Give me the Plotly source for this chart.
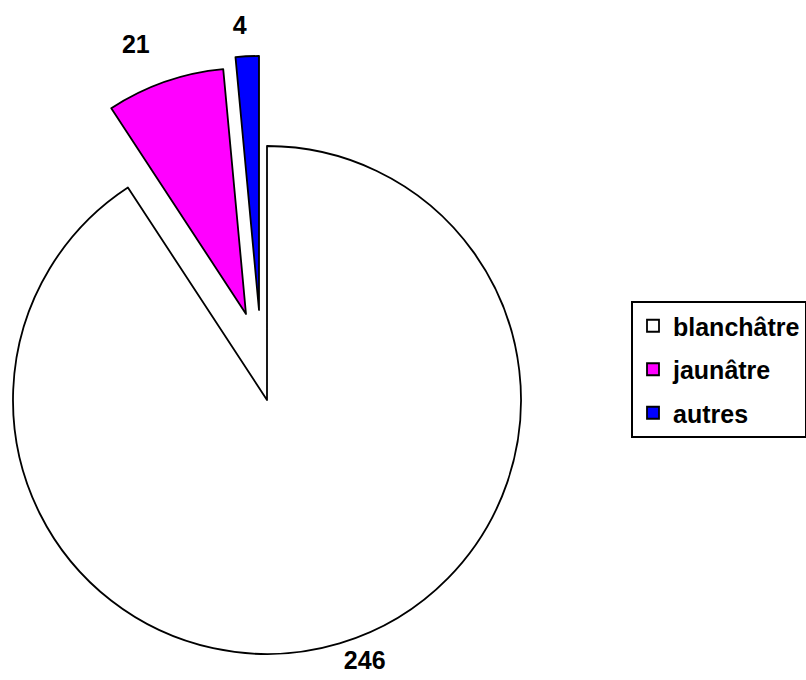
import plotly.graph_objects as go

# ---- data ----
labels = ["blanchâtre", "jaunâtre", "autres"]
values = [246, 21, 4]
value_text = ["246", "21", "4"]

# ---- styles ----
colors = ["#FFFFFF", "#FF00FF", "#0000FF"]
TRANSPARENT = "rgba(0,0,0,0)"
LINE_W = 1.8
LABEL_FONT = dict(family="Liberation Sans, Arial, sans-serif", size=25, color="black", weight="bold")
LEGEND_FONT = dict(family="Liberation Sans, Arial, sans-serif", size=25, color="black", weight="bold")

W, H = 806, 680

def dom(cx, cy, r):
    """domain (paper fractions) of a pie of radius r centred at pixel (cx, cy)."""
    return dict(x=[(cx - r) / W, (cx + r) / W],
                y=[(H - (cy + r)) / H, (H - (cy - r)) / H])

# slice geometry (pixel centre + radius): main pie and the two exploded slices
slice_geom = [(267, 400, 254), (246, 314, 246), (259, 310, 254)]
# where each value label's (transparent) carrier pie sits
label_geom = [(262, 396, 262), (234, 277, 234), (266, 305, 266)]

fig = go.Figure()

# legend-only pies (one per category), hidden beneath the legend box
for i, lab in enumerate(labels):
    fig.add_trace(go.Pie(
        labels=[lab], values=[values[i]], sort=False,
        marker=dict(colors=[colors[i]], line=dict(color="black", width=LINE_W)),
        textinfo="none", hoverinfo="skip",
        domain=dict(x=[0.88, 0.8805], y=[0.40, 0.4005]),
        legendgroup=lab, showlegend=True,
    ))

n = len(labels)
for i, lab in enumerate(labels):
    # the slice itself (other slices transparent, so angles are kept)
    cx, cy, r = slice_geom[i]
    fig.add_trace(go.Pie(
        labels=labels, values=values, sort=False,
        direction="clockwise", rotation=0,
        marker=dict(colors=[colors[j] if j == i else TRANSPARENT for j in range(n)],
                    line=dict(color="black", width=[LINE_W if j == i else 0 for j in range(n)])),
        textinfo="none", hoverinfo="label+value",
        domain=dom(cx, cy, r), showlegend=False,
    ))
    # its value label, placed outside by a transparent carrier pie
    lx, ly, lr = label_geom[i]
    fig.add_trace(go.Pie(
        labels=labels, values=values, sort=False,
        direction="clockwise", rotation=0,
        marker=dict(colors=[TRANSPARENT] * n, line=dict(width=0)),
        text=[value_text[j] if j == i else "" for j in range(n)],
        textinfo="text",
        textposition=["outside" if j == i else "none" for j in range(n)],
        textfont=LABEL_FONT, outsidetextfont=LABEL_FONT,
        hoverinfo="skip",
        domain=dom(lx, ly, lr), showlegend=False,
    ))

fig.update_layout(
    width=W, height=H,
    margin=dict(l=0, r=0, t=0, b=0, autoexpand=False),
    paper_bgcolor="white", plot_bgcolor="white",
    legend=dict(
        x=631 / W, y=(H - 301) / H, xanchor="left", yanchor="top",
        bgcolor="white", bordercolor="black", borderwidth=2,
        font=LEGEND_FONT, traceorder="grouped", tracegroupgap=8,
    ),
)

fig.write_html("out.html")
